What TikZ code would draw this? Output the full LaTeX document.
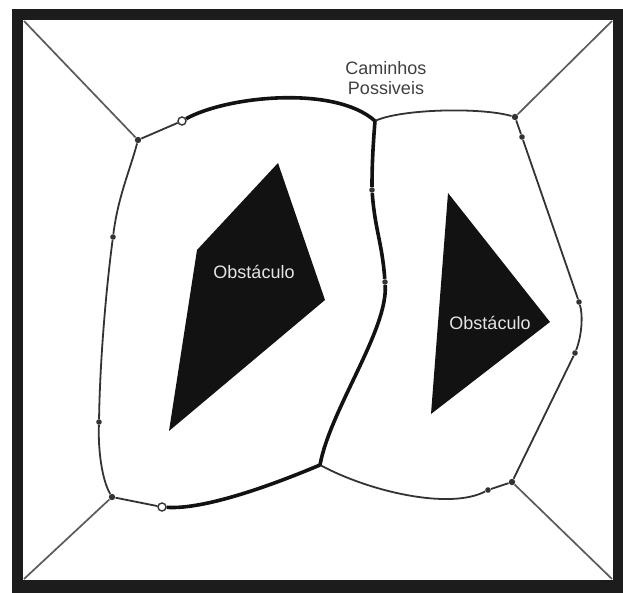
\documentclass[tikz,border=0pt]{standalone}
\usepackage{fontspec}
\setmainfont{Liberation Sans}
\usetikzlibrary{positioning}

\definecolor{framegray}{HTML}{1C1C1C}
\definecolor{pathgray}{HTML}{333333}
\definecolor{wallgray}{HTML}{5A5A5A}
\definecolor{obstblack}{HTML}{121212}

\tikzset{
  route/.style={draw=pathgray, line width=0.9pt},
  bestroute/.style={draw=obstblack, line width=1.8pt},
  wall/.style={draw=wallgray, line width=0.85pt},
  junction/.style={circle, fill=pathgray, inner sep=0pt, minimum size=3.2pt},
  waypoint/.style={circle, fill=pathgray, inner sep=0pt, minimum size=2.8pt},
  endpoint/.style={circle, draw=pathgray, fill=white, line width=0.7pt, inner sep=0pt, minimum size=4pt},
  obstacle/.style={fill=obstblack},
  obstlabel/.style={text=black!10, font=\fontsize{9}{11}\selectfont},
}

\begin{document}
\begin{tikzpicture}[x=0.5pt, y=-0.5pt]
  \useasboundingbox (0,0) rectangle (623,593);
  % frame
  \fill[framegray] (12,9) rectangle (623,593);
  \fill[white] (23,20) rectangle (613,580);
  \coordinate (TL) at (24,21);
  \coordinate (TR) at (612,21);
  \coordinate (BL) at (24,579);
  \coordinate (BR) at (612,579);

  % obstacles
  \fill[obstacle] (278,163) -- (325,300) -- (169,431) -- (197,250) -- cycle;
  \fill[obstacle] (448,193) -- (550,322) -- (431,414) -- cycle;
  \node[obstlabel] (obsL) at (254,272) {Obstáculo};
  \node[obstlabel] (obsR) at (490,323) {Obstáculo};

  \node[text=black!75, align=center, font=\fontsize{9}{10}\selectfont] (caption) at (386,78) {Caminhos\\Possiveis};

  % graph vertices
  \foreach \n/\p in {A/{138,140}, D/{515,117}, E/{512,482}, F/{112,497}}
    \node[junction] (\n) at (\p) {};
  \foreach \n/\p in {a1/{113,237}, f1/{99,422}, d1/{522,137}, d2/{579,302},
                     d3/{575,353}, e1/{488,490}, m1/{372,190}, m2/{385,282}}
    \node[waypoint] (\n) at (\p) {};
  \node[endpoint] (S) at (182,121) {};
  \node[endpoint] (G) at (162,507) {};
  \coordinate (B) at (375,121);
  \coordinate (C) at (320,465);

  % walls to the corners
  \foreach \c/\n in {TL/A, TR/D, BL/F, BR/E}
    \draw[wall] (\c) -- (\n);

  % possible routes
  \draw[route] (A) -- (S);
  \draw[route] (B) .. controls +(25,-12) and +(-35,-10) .. (D);
  \draw[route] (D) -- (d1) -- (d2);
  \draw[route] (d2) .. controls +(4,13) and +(7,-18) .. (d3);
  \draw[route] (d3) -- (E) -- (e1);
  \draw[route] (e1) .. controls +(-38,20) and +(50,27) .. (C);
  \draw[route] (G) -- (F);
  \draw[route] (F) .. controls +(-10,-17) and +(-1,28) .. (f1);
  \draw[route] (f1) .. controls +(1,-62) and +(-7,53) .. (a1);
  \draw[route] (a1) .. controls +(5,-40) and +(-8,30) .. (A);

  % shortest route
  \draw[bestroute] (S) .. controls +(45,-25) and +(-40,-36) .. (B);
  \draw[bestroute] (B) .. controls +(-2,25) and +(0,-25) .. (m1);
  \draw[bestroute] (m1) .. controls +(3,40) and +(-3,-40) .. (m2);
  \draw[bestroute] (m2) .. controls +(3,48) and +(10,-55) .. (C);
  \draw[bestroute] (C) .. controls +(-45,19) and +(43,3) .. (G);
\end{tikzpicture}
\end{document}
